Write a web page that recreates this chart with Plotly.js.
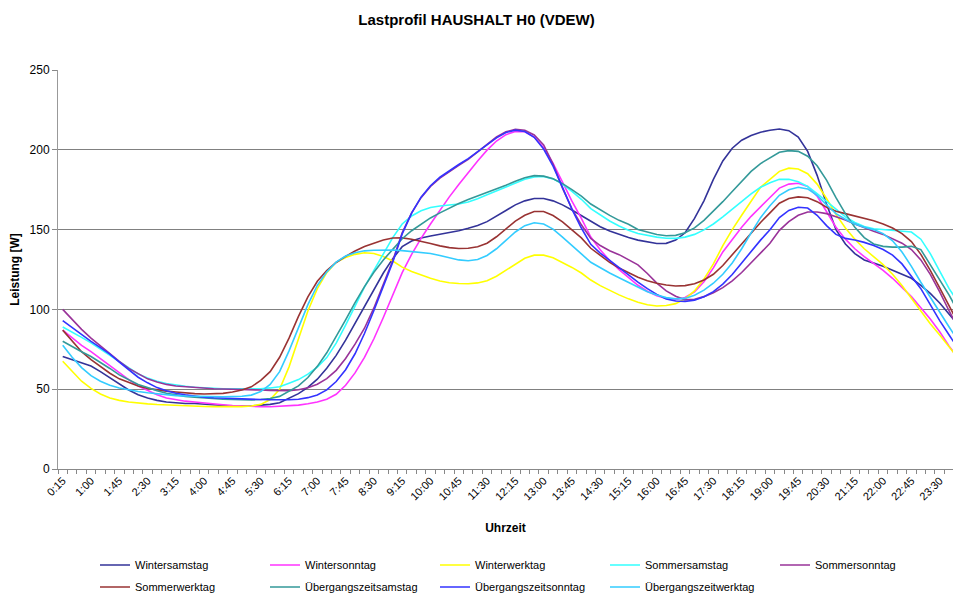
<!DOCTYPE html>
<html>
<head>
<meta charset="utf-8">
<script src="https://cdn.plot.ly/plotly-3.0.1.min.js"></script>
<style>
html,body{margin:0;padding:0;background:#ffffff;}
#chart{width:953px;height:594px;}
</style>
</head>
<body>
<div id="chart"></div>
<script>
// Categories: quarter-hour time stamps
const times = ["0:15","0:30","0:45","1:00","1:15","1:30","1:45","2:00","2:15","2:30","2:45","3:00","3:15","3:30","3:45","4:00","4:15","4:30","4:45","5:00","5:15","5:30","5:45","6:00","6:15","6:30","6:45","7:00","7:15","7:30","7:45","8:00","8:15","8:30","8:45","9:00","9:15","9:30","9:45","10:00","10:15","10:30","10:45","11:00","11:15","11:30","11:45","12:00","12:15","12:30","12:45","13:00","13:15","13:30","13:45","14:00","14:15","14:30","14:45","15:00","15:15","15:30","15:45","16:00","16:15","16:30","16:45","17:00","17:15","17:30","17:45","18:00","18:15","18:30","18:45","19:00","19:15","19:30","19:45","20:00","20:15","20:30","20:45","21:00","21:15","21:30","21:45","22:00","22:15","22:30","22:45","23:00","23:15","23:30","23:45","0:00"];

const seriesNames = ["Wintersamstag","Wintersonntag","Winterwerktag","Sommersamstag","Sommersonntag","Sommerwerktag","Übergangszeitsamstag","Übergangszeitsonntag","Übergangszeitwerktag"];

const wintersamstag = [70.5,68.5,66.5,64.5,61,57,53,49.5,46.5,44.5,43,42,41.5,41,41,40.5,40,39.8,39.5,39.5,39.5,40,40.5,41.5,
44.4,47.2,51.1,56.3,63.1,71.2,80.7,91.2,101.9,112.7,122.8,131.8,
139.3,142.8,144.8,146,147,148,149.3,150.8,152.5,155,158.3,162,165.5,168,169.5,169.5,168,165.5,162.3,158.8,
154.8,151.8,149.1,147,145,143.4,142.3,141.3,141.4,143.4,148,157,168,181.5,193,201,206,209,211,212.3,
213,212,208,199,184,166,150,141,135,131,129,127,124.5,122,119.5,115,110,104,97,90];

const wintersonntag = [87,82,77.5,73.5,69,64.5,60,56,52,49,46.5,44.5,43.5,42.5,42,41.3,40.8,40.3,39.8,39.4,39.2,39,39,39.2,
39.5,40,40.9,42,43.7,46.8,52.5,60.2,69.9,81.6,94.9,108.6,
123,134.5,144.5,153.5,162.3,170.5,178.3,185.8,193,199.8,205.5,209.5,211.5,211.3,208,201.3,191.5,179.8,167.8,157,
145.3,137.4,130.6,124.9,119.8,115.1,111.4,108.6,106.9,106.1,107.5,111,117.3,126,136,144,151.5,158.3,164.5,170.1,
176,178.5,179,177,171,161.5,151.5,144,138,133,129,124.5,119.5,114,108,101,94,86,77,69];

const winterwerktag = [67.5,61,55,50.5,47,44.5,43,42,41.3,40.8,40.4,40.1,39.8,39.6,39.4,39.2,39.1,39,39,39.1,39.5,40.5,43.5,50,
64,81,99,113,123,129.5,132.5,134.5,135.5,135,133.1,130.3,
126.5,123.8,121.5,119.5,117.8,116.7,116.2,116.1,116.6,118,120.8,124.5,128.5,132,134,134,132.3,129.5,126.3,122.8,
118.4,114.9,111.8,109.1,106.6,104.5,102.9,102.1,102.4,103.6,106.6,111.6,119,128.5,140,150,159,168,176.5,181.5,
186.5,188.5,188,185,178.5,169.5,159.5,151,144,138,133,128,122,115,107,99,91,84,76.5,69];

const sommersamstag = [89,86,82.5,79,75,71,67,63,59.5,57,55,53.5,52.5,51.8,51.2,50.8,50.5,50.3,50.2,50.2,50.2,50.3,50.8,51.5,
53.7,56,59.4,63.8,69.8,78.9,90.2,102.2,113.9,124.5,134.9,145,
153.5,158.5,161.8,163.8,164.8,165.3,166,167.3,169.3,171.8,174.3,176.8,179.3,181.5,183,183.3,181.8,178.5,174,169,
163.1,159,155.4,152.3,149.6,147.5,146.3,145.3,144.6,144.5,145.3,147,149.8,153.5,157.9,162.8,167.8,172.4,176.5,179.4,
181.5,181.5,180,177,172.5,167.5,162.5,158,154.5,152,150.5,150,149.5,149,148.5,144,135,124,113,104];

const sommersonntag = [100,93.5,87.5,82,77,72,67.5,63,59.5,56.5,54.5,53,52,51.5,51,50.6,50.3,50.1,50,50,49.8,49.5,49.2,49,
49.1,49.7,50.9,53.1,56.6,61.8,69.2,78.2,88.2,100.9,115.3,130.6,
148,160.5,170,177,182.3,186.5,190.3,194,198.5,203.5,208,211.3,212.8,212.3,209.3,203,191,176,163,153,
144.5,140,136.8,134.3,131.1,127.9,122.5,116.5,111.6,108.3,106,106.3,108,110.4,113.6,117.9,123.1,129,135,141.4,
149.5,155,159,161,161,160,158,156,153.5,151,149,147,144.5,141.5,137.5,131,122,111,99,88];

const sommerwerktag = [87,80,73.5,68.5,64,60,56.5,54,52,50.5,49.5,48.8,48.2,47.6,47.2,47,47,47.4,48.2,49.5,51.5,55.5,61,70,
82,95.6,107.9,117.6,124.4,129.4,133.2,136.6,139.4,141.7,143.5,144.7,
144.8,144,142.8,141.3,139.8,138.7,138.2,138.3,139.3,141.5,145.5,150.5,155.3,159,161.3,161.3,158.8,154.8,150,144.8,
138.3,133.6,129.5,125.9,122.8,120.1,118,116.4,115.3,114.7,114.9,116.1,118.4,122,127.5,134.3,141.3,148.3,154.5,160.5,
166.5,169.5,170.5,170,167.5,164,161.5,160,158.5,157,155.5,153.5,151,147.5,142.5,134.5,124.5,113.5,102,91];

const uebergangSamstag = [80,76.5,73.5,70.5,67,63,59,56,53,51,49,47.5,46.5,45.5,45,44.5,44,43.7,43.5,43.3,43.3,43.5,44.2,45.5,
48.6,52.1,57.3,64.3,72.8,82.7,93.4,104.2,114.3,123.3,131,137.6,
144.3,149.3,153.5,157.3,160.5,163.5,166.3,168.8,171,173,175.3,177.8,180.3,182.5,183.8,183.5,181.8,178.8,175,171,
166,162.4,158.9,155.8,153.3,150.1,148.4,146.9,146.1,146.4,148,151.1,155.8,161.5,167.5,173.9,180.4,186.5,191.4,195.1,
198.5,199.5,199,196,190,181,170,160,151.5,145,141,139.5,139,139,139.5,137.5,128,119,109,98];

const uebergangSonntag = [93,88.5,84,80,76,72,67,62,57.5,54,51,49,47.5,46.5,45.7,45,44.6,44.3,44,43.8,43.6,43.5,43.4,43.3,
43.4,43.7,44.7,46.4,49.6,54.8,62.2,72.2,84.9,99.3,114.3,129.6,
147.3,160.3,170.3,177.5,182.8,187,190.8,194.5,198.8,203.3,207.5,210.8,212.3,211.5,207.8,200.5,189.8,176.5,162.8,151,
140.8,135.3,130.6,126.1,121.6,117.1,113,109.4,106.6,105.3,105,105.8,107.9,111.1,115.8,121.9,129.1,136.6,143.4,149.9,
157.5,162,164,163.5,159,152.5,147,144.5,143.5,142,140,137.5,134,128.5,121,113,103,93,84,75];

const uebergangWerktag = [77.5,70,63.5,58.5,55,52.5,50.8,49.6,48.6,47.8,47.1,46.5,46,45.7,45.5,45.4,45.3,45.3,45.4,45.6,46.3,48.5,53,61,
74,88,103,115,123.5,129.6,133.4,135.5,136.7,137.1,137.3,137.2,
136.8,136.3,135.8,135,133.8,132.3,131,130.5,131.3,133.8,138,143.3,148.5,152.5,154.3,153.5,150.3,145.3,139.8,134.8,
129.5,125.9,122.8,119.8,116.8,113.8,111.1,109,107.4,106.6,106.9,108.9,112.1,116.4,122,129.1,138,148,157.5,165,
171.5,175,176.5,175.5,171.5,165.5,160,156.5,153.5,151.5,150,147.5,143,136,127,117,107.5,98,89,80];

const seriesValues = [wintersamstag, wintersonntag, winterwerktag, sommersamstag, sommersonntag, sommerwerktag, uebergangSamstag, uebergangSonntag, uebergangWerktag];
const seriesColors = ["#333399","#ff33ff","#ffff00","#33ffff","#993399","#993333","#339999","#3333ff","#33ccff"];

// legend grid: 5 columns, 2 rows (one single-entry legend per cell)
const legendColumnsPx = [95, 265, 435, 605, 775];
const legendRowsPx = [565, 587];

const legendIds = seriesNames.map((n, k) => k === 0 ? 'legend' : 'legend' + (k + 1));

const traces = seriesNames.map((name, k) => ({
  type: 'scatter',
  mode: 'lines',
  name: name,
  x: times,
  y: seriesValues[k],
  legend: legendIds[k],
  line: {color: seriesColors[k], width: 1.6},
  hoverinfo: 'x+y+name'
}));

const layout = {
  width: 953,
  height: 594,
  margin: {l: 58, r: 0, t: 70, b: 125, pad: 0},
  paper_bgcolor: '#ffffff',
  plot_bgcolor: '#ffffff',
  font: {family: 'Liberation Sans, Arial, sans-serif', size: 11, color: '#000'},
  title: {
    text: '<b>Lastprofil HAUSHALT H0 (VDEW)</b>',
    font: {size: 15, color: '#000'},
    x: 0.5, xref: 'container', xanchor: 'center',
    y: 1 - 20/594, yref: 'container', yanchor: 'middle'
  },
  xaxis: {
    type: 'category',
    range: [-0.5, 94.41],
    tickmode: 'linear',
    tick0: 0,
    dtick: 1,
    ticklabelstep: 3,
    tickson: 'boundaries',
    ticks: 'outside',
    ticklen: 4,
    tickcolor: '#888888',
    showline: true,
    linecolor: '#888888',
    linewidth: 1,
    showgrid: false,
    zeroline: false,
    automargin: false,
    tickangle: -45,
    tickfont: {size: 11, color: '#000'},
    title: {text: '<b>Uhrzeit</b>', font: {size: 12, color: '#000'}, standoff: 22}
  },
  yaxis: {
    range: [0, 250],
    tickmode: 'linear',
    tick0: 0,
    dtick: 50,
    showgrid: true,
    gridcolor: '#808080',
    gridwidth: 1,
    showline: true,
    linecolor: '#999999',
    linewidth: 1,
    ticks: 'outside',
    ticklen: 5,
    tickcolor: '#888888',
    zeroline: false,
    automargin: false,
    tickfont: {size: 12, color: '#000'},
    title: {text: '<b>Leistung [W]</b>', font: {size: 12, color: '#000'}, standoff: 7}
  },
  showlegend: true
};

legendIds.forEach((id, k) => {
  const col = k < 5 ? k : k - 5;
  const row = k < 5 ? 0 : 1;
  layout[id] = {
    orientation: 'h',
    xref: 'container',
    yref: 'container',
    x: legendColumnsPx[col] / 953,
    xanchor: 'left',
    y: 1 - legendRowsPx[row] / 594,
    yanchor: 'middle',
    font: {size: 11, color: '#000'},
    bgcolor: 'rgba(0,0,0,0)',
    borderwidth: 0
  };
});

Plotly.newPlot('chart', traces, layout, {displayModeBar: false, responsive: false});
</script>
</body>
</html>
